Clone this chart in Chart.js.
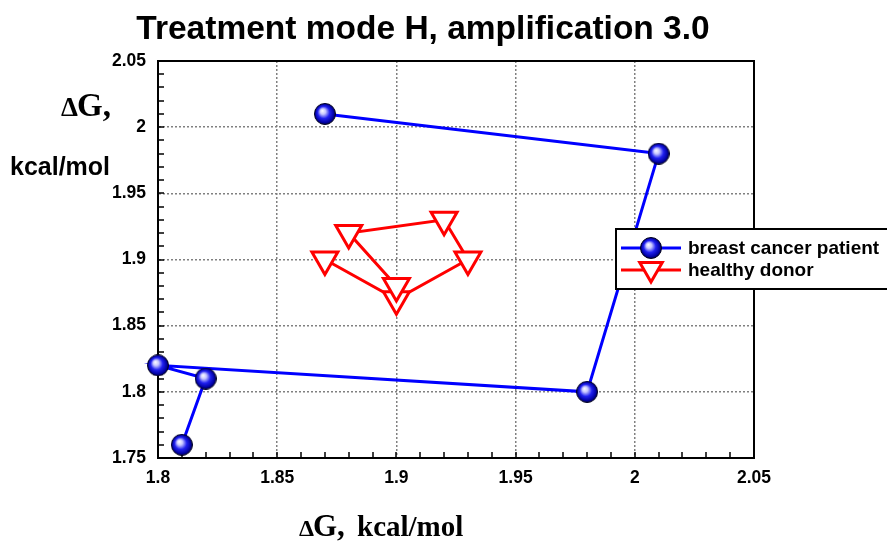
<!DOCTYPE html>
<html>
<head>
<meta charset="utf-8">
<script src="https://cdn.jsdelivr.net/npm/chart.js@4"></script>
<style>
	html, body { margin: 0; padding: 0; background: #fff; }
	#wrap { width: 887px; height: 546px; }
</style>
</head>
<body>
<div id="wrap"><canvas id="myChart" width="887" height="546"></canvas></div>
<script>
// Данные
const patientX = [1.81, 1.82, 1.80, 1.98, 2.01, 1.87];
const patientY = [1.76, 1.81, 1.82, 1.80, 1.98, 2.01];
const donorX = [1.87, 1.90, 1.93, 1.92, 1.88, 1.90];
const donorY = [1.90, 1.87, 1.90, 1.93, 1.92, 1.88];
const xTickLabels = ['1.8', '1.85', '1.9', '1.95', '2', '2.05'];
const yTickLabels = ['1.75', '1.8', '1.85', '1.9', '1.95', '2', '2.05'];
const seriesNames = ['breast cancer patient', 'healthy donor'];
const titleText = 'Treatment mode H, amplification 3.0';

const sans = "'Liberation Sans', Arial, sans-serif";
const serif = "'Liberation Serif', 'Times New Roman', serif";

// Шарик для синей серии
function MakeBall(size) {
	const c = document.createElement('canvas');
	c.width = size;
	c.height = size;
	const g = c.getContext('2d');
	const r = size / 2;
	const grad = g.createRadialGradient(r * 0.75, r * 0.7, 0, r, r, r);
	grad.addColorStop(0, '#ffffff');
	grad.addColorStop(0.25, '#c8c8ff');
	grad.addColorStop(0.55, '#2020f0');
	grad.addColorStop(0.85, '#0000a0');
	grad.addColorStop(1, '#000030');
	g.beginPath();
	g.arc(r, r, r - 0.5, 0, Math.PI * 2);
	g.fillStyle = grad;
	g.fill();
	g.lineWidth = 1;
	g.strokeStyle = '#000020';
	g.stroke();
	return c;
}
const ball = MakeBall(22);

function ToPoints(xs, ys) {
	return xs.map((x, i) => ({ x: x, y: ys[i] }));
}

function DrawTriangle(ctx, x, y, r) {
	ctx.beginPath();
	for (let k = 0; k < 3; k++) {
		const a = Math.PI / 2 + k * 2 * Math.PI / 3;
		const px = x + Math.cos(a) * r;
		const py = y + Math.sin(a) * r;
		if (k === 0) ctx.moveTo(px, py);
		else ctx.lineTo(px, py);
	}
	ctx.closePath();
	ctx.fillStyle = '#fff';
	ctx.fill();
	ctx.lineWidth = 3;
	ctx.strokeStyle = '#ff0000';
	ctx.stroke();
}

const decor = {
	id: 'decor',
	beforeDatasetsDraw(chart) {
		const ctx = chart.ctx;
		const a = chart.chartArea;
		const xs = chart.scales.x, ys = chart.scales.y;
		ctx.save();
		// рамка
		ctx.strokeStyle = '#000';
		ctx.lineWidth = 2;
		ctx.strokeRect(a.left, a.top, a.right - a.left, a.bottom - a.top);

		// малые засечки внутрь
		ctx.lineWidth = 1.5;
		ctx.beginPath();
		for (let i = 0; i <= 25; i++) {
			const px = Math.round(xs.getPixelForValue(1.8 + i * 0.01));
			ctx.moveTo(px, a.bottom);
			ctx.lineTo(px, a.bottom - 6);
		}
		for (let i = 0; i <= 30; i++) {
			const py = Math.round(ys.getPixelForValue(1.75 + i * 0.01));
			ctx.moveTo(a.left, py);
			ctx.lineTo(a.left + 6, py);
		}
		ctx.stroke();
		ctx.restore();
	},
	afterDraw(chart) {
		const ctx = chart.ctx;
		ctx.save();

		// заголовок
		ctx.fillStyle = '#000';
		ctx.textBaseline = 'alphabetic';
		ctx.textAlign = 'center';
		ctx.font = 'bold 33.5px ' + sans;
		ctx.fillText(titleText, 423, 39);

		// подпись оси Y
		ctx.textAlign = 'left';
		ctx.font = 'bold 27px ' + serif;
		ctx.fillText('\u0394', 61, 116);
		ctx.font = 'bold 33px ' + serif;
		ctx.fillText('G,', 77, 116);
		ctx.font = 'bold 25px ' + sans;
		ctx.fillText('kcal/mol', 10, 175);

		// подпись оси X
		ctx.font = 'bold 24px ' + serif;
		ctx.fillText('\u0394', 299, 536);
		ctx.font = 'bold 31px ' + serif;
		ctx.fillText('G,', 313, 536);
		ctx.font = 'bold 29px ' + serif;
		ctx.fillText('kcal/mol', 357, 536);

		// легенда
		const lx = 616, ly = 229;
		ctx.fillStyle = '#fff';
		ctx.fillRect(lx, ly, 300, 60);
		ctx.strokeStyle = '#000';
		ctx.lineWidth = 2;
		ctx.strokeRect(lx, ly, 300, 60);

		ctx.lineWidth = 3;
		ctx.strokeStyle = '#0000ff';
		ctx.beginPath();
		ctx.moveTo(621, 248);
		ctx.lineTo(681, 248);
		ctx.stroke();
		ctx.drawImage(ball, 651 - 11, 248 - 11);

		ctx.strokeStyle = '#ff0000';
		ctx.beginPath();
		ctx.moveTo(621, 270);
		ctx.lineTo(681, 270);
		ctx.stroke();
		DrawTriangle(ctx, 651, 269, 13);

		ctx.fillStyle = '#000';
		ctx.font = 'bold 19px ' + sans;
		ctx.textBaseline = 'middle';
		ctx.fillText(seriesNames[0], 688, 249);
		ctx.fillText(seriesNames[1], 688, 271);
		ctx.restore();
	}
};

const ctx = document.getElementById('myChart').getContext('2d');

const chart = new Chart(ctx, {
	type: 'scatter',
	data: {
		datasets: [
			{
				label: seriesNames[0],
				data: ToPoints(patientX, patientY),
				showLine: true,
				clip: false,
				borderColor: '#0000ff',
				borderWidth: 3,
				pointStyle: ball,
				pointRadius: 11,
				pointHoverRadius: 11
			},
			{
				label: seriesNames[1],
				data: ToPoints(donorX, donorY),
				showLine: true,
				clip: false,
				borderColor: '#ff0000',
				borderWidth: 3,
				pointStyle: 'triangle',
				rotation: 180,
				pointRadius: 15,
				pointHoverRadius: 15,
				pointBorderWidth: 3,
				pointBackgroundColor: '#ffffff',
				pointBorderColor: '#ff0000'
			}
		]
	},
	options: {
		responsive: false,
		animation: false,
		events: [],
		layout: { padding: { top: 61, right: 133, left: 0, bottom: 0 } },
		plugins: {
			legend: { display: false },
			title: { display: false },
			tooltip: { enabled: false }
		},
		scales: {
			x: {
				type: 'linear',
				min: 1.8,
				max: 2.05,
				afterFit: s => { s.height = 88; },
				afterBuildTicks: s => {
					s.ticks = xTickLabels.map(t => ({ value: parseFloat(t) }));
				},
				ticks: {
					padding: 10,
					color: '#000',
					font: { family: sans, size: 17.5, weight: 'bold' },
					callback: (v, i) => xTickLabels[i]
				},
				grid: {
					color: '#808080',
					lineWidth: 1.5,
					drawTicks: false
				},
				border: { display: true, color: '#000', width: 2, dash: [2, 2] }
			},
			y: {
				type: 'linear',
				min: 1.75,
				max: 2.05,
				afterFit: s => { s.width = 158; },
				afterBuildTicks: s => {
					s.ticks = yTickLabels.map(t => ({ value: parseFloat(t) }));
				},
				ticks: {
					padding: 12,
					color: '#000',
					font: { family: sans, size: 17.5, weight: 'bold' },
					callback: (v, i) => yTickLabels[i]
				},
				grid: {
					color: '#808080',
					lineWidth: 1.5,
					drawTicks: false
				},
				border: { display: true, color: '#000', width: 2, dash: [2, 2] }
			}
		}
	},
	plugins: [decor]
});
</script>
</body>
</html>
